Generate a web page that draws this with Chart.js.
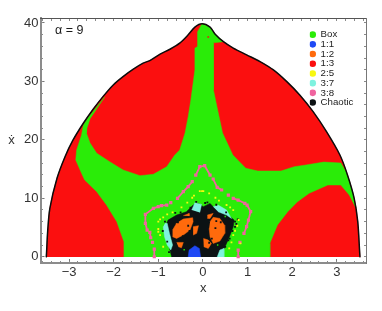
<!DOCTYPE html>
<html><head><meta charset="utf-8">
<style>html,body{margin:0;padding:0;background:#fff}canvas{display:block}</style>
<script src="https://cdn.jsdelivr.net/npm/chart.js@4"></script></head>
<body><canvas id="c" width="382" height="311"></canvas>
<script>
const classNames=["Box","1:1","1:2","1:3","2:5","3:7","3:8","Chaotic"];
const classColors=["#2aec08","#1f49f5","#ff6a0c","#fb0f0f","#f8f810","#7ff2df","#f0649f","#0c1214"];
const xTicks=[-3,-2,-1,0,1,2,3];
const yTicks=[0,10,20,30,40];
const xMinorTicks=[-3.6,-3.4,-3.2,-3,-2.8,-2.6,-2.4,-2.2,-2,-1.8,-1.6,-1.4,-1.2,-1,-.8,-.6,-.4,-.2,0,.2,.4,.6,.8,1,1.2,1.4,1.6,1.8,2,2.2,2.4,2.6,2.8,3,3.2,3.4,3.6];
const yMinorTicks=[0,2,4,6,8,10,12,14,16,18,20,22,24,26,28,30,32,34,36,38,40];
const envelope=[[-3.52,-.05],[-3.51,0],[-3.48,4.28],[-3.43,8.29],[-3.27,13.42],[-3.09,17.12],[-2.91,19.98],[-2.68,22.84],[-2.46,25.24],[-2.24,27.4],[-2.01,29.4],[-1.79,30.82],[-1.56,32.09],[-1.34,33.12],[-1.19,33.56],[-.96,34.66],[-.74,35.5],[-.52,36.54],[-.33,37.97],[-.18,39.28],[-.02,39.85],[.16,39.28],[.27,38.13],[.46,36.8],[.68,35.7],[.98,34.54],[1.28,33.39],[1.58,31.97],[1.88,29.97],[2.17,27.69],[2.47,24.83],[2.77,21.4],[3.07,17.41],[3.24,14],[3.39,10],[3.47,6],[3.52,0],[3.53,-.05]];
const boxRegion=[[-1.77,-.05],[-1.77,2.57],[-1.93,5.99],[-2.16,8.85],[-2.38,11.13],[-2.65,13.13],[-2.72,14.28],[-2.85,16.56],[-2.83,18.27],[-2.72,20.84],[-2.68,22.5],[-2.58,23.75],[-2.2,27.35],[-2.53,23.6],[-2.6,22],[-2.61,21.13],[-2.53,19.47],[-2.38,17.7],[-2.09,16.27],[-1.79,14.85],[-1.41,13.87],[-1.11,14.11],[-.81,15.41],[-.63,17.41],[-.52,18.27],[-.4,21.18],[-.33,23.97],[-.27,26.83],[-.18,31.97],[-.18,35.69],[-.12,35.96],[-.12,38.5],[-.02,39.85],[.16,39.28],[.27,38.13],[.46,36.8],[.23,36.6],[.23,31.97],[.24,28.55],[.33,25.1],[.44,21.18],[.67,17.41],[.96,15.14],[1.23,14.67],[1.75,14.67],[2.05,15.41],[2.31,15.7],[2.71,16.2],[3.09,16.04],[3.21,14.5],[3.34,11.42],[3.43,8.34],[3.28,10.56],[3.09,12.28],[2.8,12.28],[2.38,10.86],[2.12,9.42],[1.9,7.71],[1.67,5.43],[1.5,2.29],[1.5,-.05]];
const chaoticRegion=[[-.7,-.05],[-.74,1.14],[-.81,3.42],[-.85,5.14],[-.78,6.28],[-.59,7.13],[-.37,7.71],[-.22,8.85],[-.1,9.13],[.01,8.56],[.16,9.13],[.23,8.56],[.46,7.99],[.61,6.85],[.7,6.28],[.68,5.14],[.61,3.71],[.53,2.28],[.46,1.14],[.34,-.05]];
const resonance37a=[[-.89,5.14],[-.86,3.42],[-.8,2],[-.72,1.14],[-.68,2],[-.75,4],[-.8,5.71],[-.85,5.71]];
const resonance37b=[[-.25,7.99],[-.18,9.25],[-.03,8.96],[-.07,7.59]];
const resonance37c=[[.23,8.56],[.34,8.85],[.53,7.99],[.64,6.56],[.53,7.13],[.34,7.71]];
const resonance37d=[[.32,-.05],[.38,1.14],[.47,1.43],[.47,-.05]];
const resonance12a=[[-.68,4.57],[-.59,5.71],[-.44,6.45],[-.23,6.68],[-.22,5.99],[-.29,4.57],[-.44,3.71],[-.59,3.14],[-.68,3.42]];
const resonance12b=[[.16,5.99],[.23,6.74],[.38,6.56],[.48,5.42],[.49,4],[.38,2.68],[.23,2.28],[.16,3.42],[.14,4.85]];
const resonance12c=[[.01,3.14],[.12,2.85],[.19,2.28],[.12,1.43],[.02,1.71]];
const resonance12d=[[-.59,2.45],[-.44,2.45],[-.48,1.54],[-.55,1.71]];
const resonance12e=[[-.22,5.14],[-.1,5.31],[-.14,4],[-.22,3.71]];
const resonance12f=[[.1,7.13],[.23,7.42],[.16,6.56],[.1,6.56]];
const resonance12g=[[-.44,7.02],[-.31,7.42],[-.31,6.96]];
const resonance11=[[-.33,-.05],[-.31,1.14],[-.18,1.88],[-.08,1.43],[-.05,-.05]];
const resonance38=[[-1.09,0],[-1.09,1.31],null,[-1.13,2.45],null,[-1.17,3.25],[-1.19,4.17],null,[-1.25,4.57],[-1.29,5.71],[-1.29,7.25],[-1.11,8.28],[-1,8.56],null,[-.93,8.73],[-.81,8.85],null,[-.72,9.25],null,[-.57,9.99],[-.44,11.13],[-.33,11.99],[-.24,12.84],null,[-.16,13.98],[-.07,15.41],[.04,15.58],[.16,13.98],null,[.23,13.3],[.32,11.87],[.42,11.42],null,[.57,10.56],null,[.68,9.99],[.79,9.7],[.94,9.13],null,[.99,8.85],[1.07,7.71],[1.02,6.28],[.98,5.14],[.92,4],null,[.83,2.45],null,[.79,1.14],[.79,0]];
const resonance25=[[-.07,11.24],[-.02,11.24],[.01,11.24],[.14,10.85],[-.24,10.1],[-.2,10.45],[-.35,9.25],[-.48,8.45],[-.68,7.59],[-.8,7.25],[-.89,6.74],[-.96,6.39],[-1,6],[-1,4.74],[-1,4.28],[-.96,3.71],[-.89,1.71],[.28,10.1],[.36,9.59],[.53,8.85],[.61,8.45],[.68,7.99],[.77,5.31],[.72,4.45],[.68,3.71],[.64,2.45],[.59,1.43],[.84,2.28],[.8,6.28]];
const chaoticDots=[[.72,6],[.75,5.6],[.66,4.4],[.57,2.8],[-.85,6],[-.9,4.4],[-.62,7.5],[-.28,8.4],[.3,8.9],[.1,9.3],[-.45,3.5],[.28,4.9],[.06,4.2],[-.3,4.4],[.42,2.4],[-.35,6.8],[.3,6.1],[.14,2.4],[-.52,2.9],[-.5,7.6],[-.15,9.4],[.05,9.2],[.52,7.6],[.78,6.4],[.72,5.1],[.6,3.1],[.5,1.7],[-.76,.8],[-.8,2.6],[-.56,5.9],[-.33,5.3],[.4,5.9],[.2,3.1],[-.12,3.2]];
const boxDots=[[-.42,1.2],[.33,2],[.5,6.9]];
const redDots=[[.12,37.6]];
const pts=a=>a.map(p=>p?{x:p[0],y:p[1]}:{x:null,y:null});
const region=(a,c)=>({data:pts(a),showLine:true,fill:'shape',backgroundColor:c,borderColor:c,borderWidth:.5,pointRadius:0,tension:0});
const dots=(a,c,r)=>({data:pts(a),showLine:false,backgroundColor:c,borderColor:c,borderWidth:0,pointStyle:'rect',pointRadius:r});
const [cBox,c11,c12,c13,c25,c37,c38,cCh]=classColors;
const datasets=[
 {data:pts(envelope),showLine:true,fill:false,borderColor:'#0c0c0c',borderWidth:1.5,pointRadius:0,tension:.3},
 dots(redDots,c13,1.2),
 dots(resonance25,c25,1.3),
 {data:pts(resonance38),showLine:true,fill:false,spanGaps:false,borderColor:c38,backgroundColor:c38,borderWidth:1.8,pointStyle:'rect',pointRadius:1,tension:0},
 dots(boxDots,cBox,1),
 region(resonance11,c11),
 dots(chaoticDots,cCh,1.3),
 region(resonance12a,c12),region(resonance12b,c12),region(resonance12c,c12),region(resonance12d,c12),region(resonance12e,c12),region(resonance12f,c12),region(resonance12g,c12),
 region(resonance37a,c37),region(resonance37b,c37),region(resonance37c,c37),region(resonance37d,c37),
 region(chaoticRegion,cCh),
 region(boxRegion,cBox),
 Object.assign(region(envelope,c13),{tension:.3})
];
const setTicks=vals=>s=>{s.ticks=vals.map(v=>({value:v}))};
const XMIN=-3.64,XMAX=3.655,YMIN=-1.07,YMAX=40.85;
const tickFont={family:'"Liberation Sans",Arial,sans-serif',size:13};
const minorX=(pos,len,vals,bc,bw)=>({type:'linear',position:pos,min:XMIN,max:XMAX,afterBuildTicks:setTicks(vals),ticks:{display:false},grid:{drawOnChartArea:false,tickLength:len,tickColor:'#8a8a8a',tickWidth:1},border:{display:bw>0,color:bc,width:bw}});
const minorY=(pos,len,vals,bc,bw)=>({type:'linear',position:pos,min:YMIN,max:YMAX,afterBuildTicks:setTicks(vals),ticks:{display:false},grid:{drawOnChartArea:false,tickLength:len,tickColor:'#8a8a8a',tickWidth:1},border:{display:bw>0,color:bc,width:bw}});
const extras={
 id:'extras',
 afterLayout(ch){const l=ch.legend;const w=l.width,h=l.height;l.left=309.7;l.right=309.7+w;l.top=29.8;l.bottom=29.8+h;},
 afterDraw(ch){const c=ch.ctx;c.save();c.textBaseline='middle';c.textAlign='left';c.fillStyle='#1a1a1a';
  c.font='12.5px "Liberation Sans",Arial,sans-serif';c.fillText('α = 9',55,31);
  c.font='13px "Liberation Sans",Arial,sans-serif';c.textAlign='center';c.fillStyle='#333';c.fillText('ẋ',11.5,140);c.restore();}
};
new Chart(document.getElementById('c'),{type:'scatter',data:{datasets},plugins:[extras],options:{
 responsive:false,animation:false,events:[],
 layout:{padding:{left:0,top:18,right:16,bottom:15}},
 plugins:{tooltip:{enabled:false},title:{display:false},
  legend:{display:true,position:'chartArea',align:'start',labels:{usePointStyle:true,boxWidth:6,boxHeight:4.7,padding:0,color:'#222',font:{family:'"Liberation Sans",Arial,sans-serif',size:9.7},
   generateLabels:()=>classNames.map((t,i)=>({text:t,fillStyle:classColors[i],strokeStyle:classColors[i],lineWidth:0,pointStyle:'circle',hidden:false,fontColor:'#222'}))}}},
 scales:{
  x:{type:'linear',position:'bottom',min:XMIN,max:XMAX,afterBuildTicks:setTicks(xTicks),afterFit(s){s.height=33},
   ticks:{font:tickFont,color:'#333',padding:6,maxRotation:0,autoSkip:false,callback:v=>String(v).replace('-','\u2212')},
   grid:{drawOnChartArea:false,tickLength:-4,tickColor:'#777',tickWidth:1},border:{color:'#8c8c8c',width:2},
   title:{display:true,text:'x',color:'#333',font:{family:'"Liberation Sans",Arial,sans-serif',size:13},padding:{top:4,bottom:0}}},
  y:{type:'linear',position:'left',min:YMIN,max:YMAX,afterBuildTicks:setTicks(yTicks),afterFit(s){s.width=40.5},
   ticks:{font:tickFont,color:'#333',padding:6,autoSkip:false,callback:v=>String(v)},
   grid:{drawOnChartArea:false,tickLength:-4,tickColor:'#777',tickWidth:1},border:{color:'#8c8c8c',width:2}},
  xm:minorX({y:YMIN},-2,xMinorTicks,'#000',0),
  ym:minorY({x:XMIN},-2,yMinorTicks,'#000',0),
  xt:minorX({y:YMAX},2,xMinorTicks,'#555',1),
  yr:minorY({x:XMAX},2,yMinorTicks,'#777',1)
 }}});
</script></body></html>
